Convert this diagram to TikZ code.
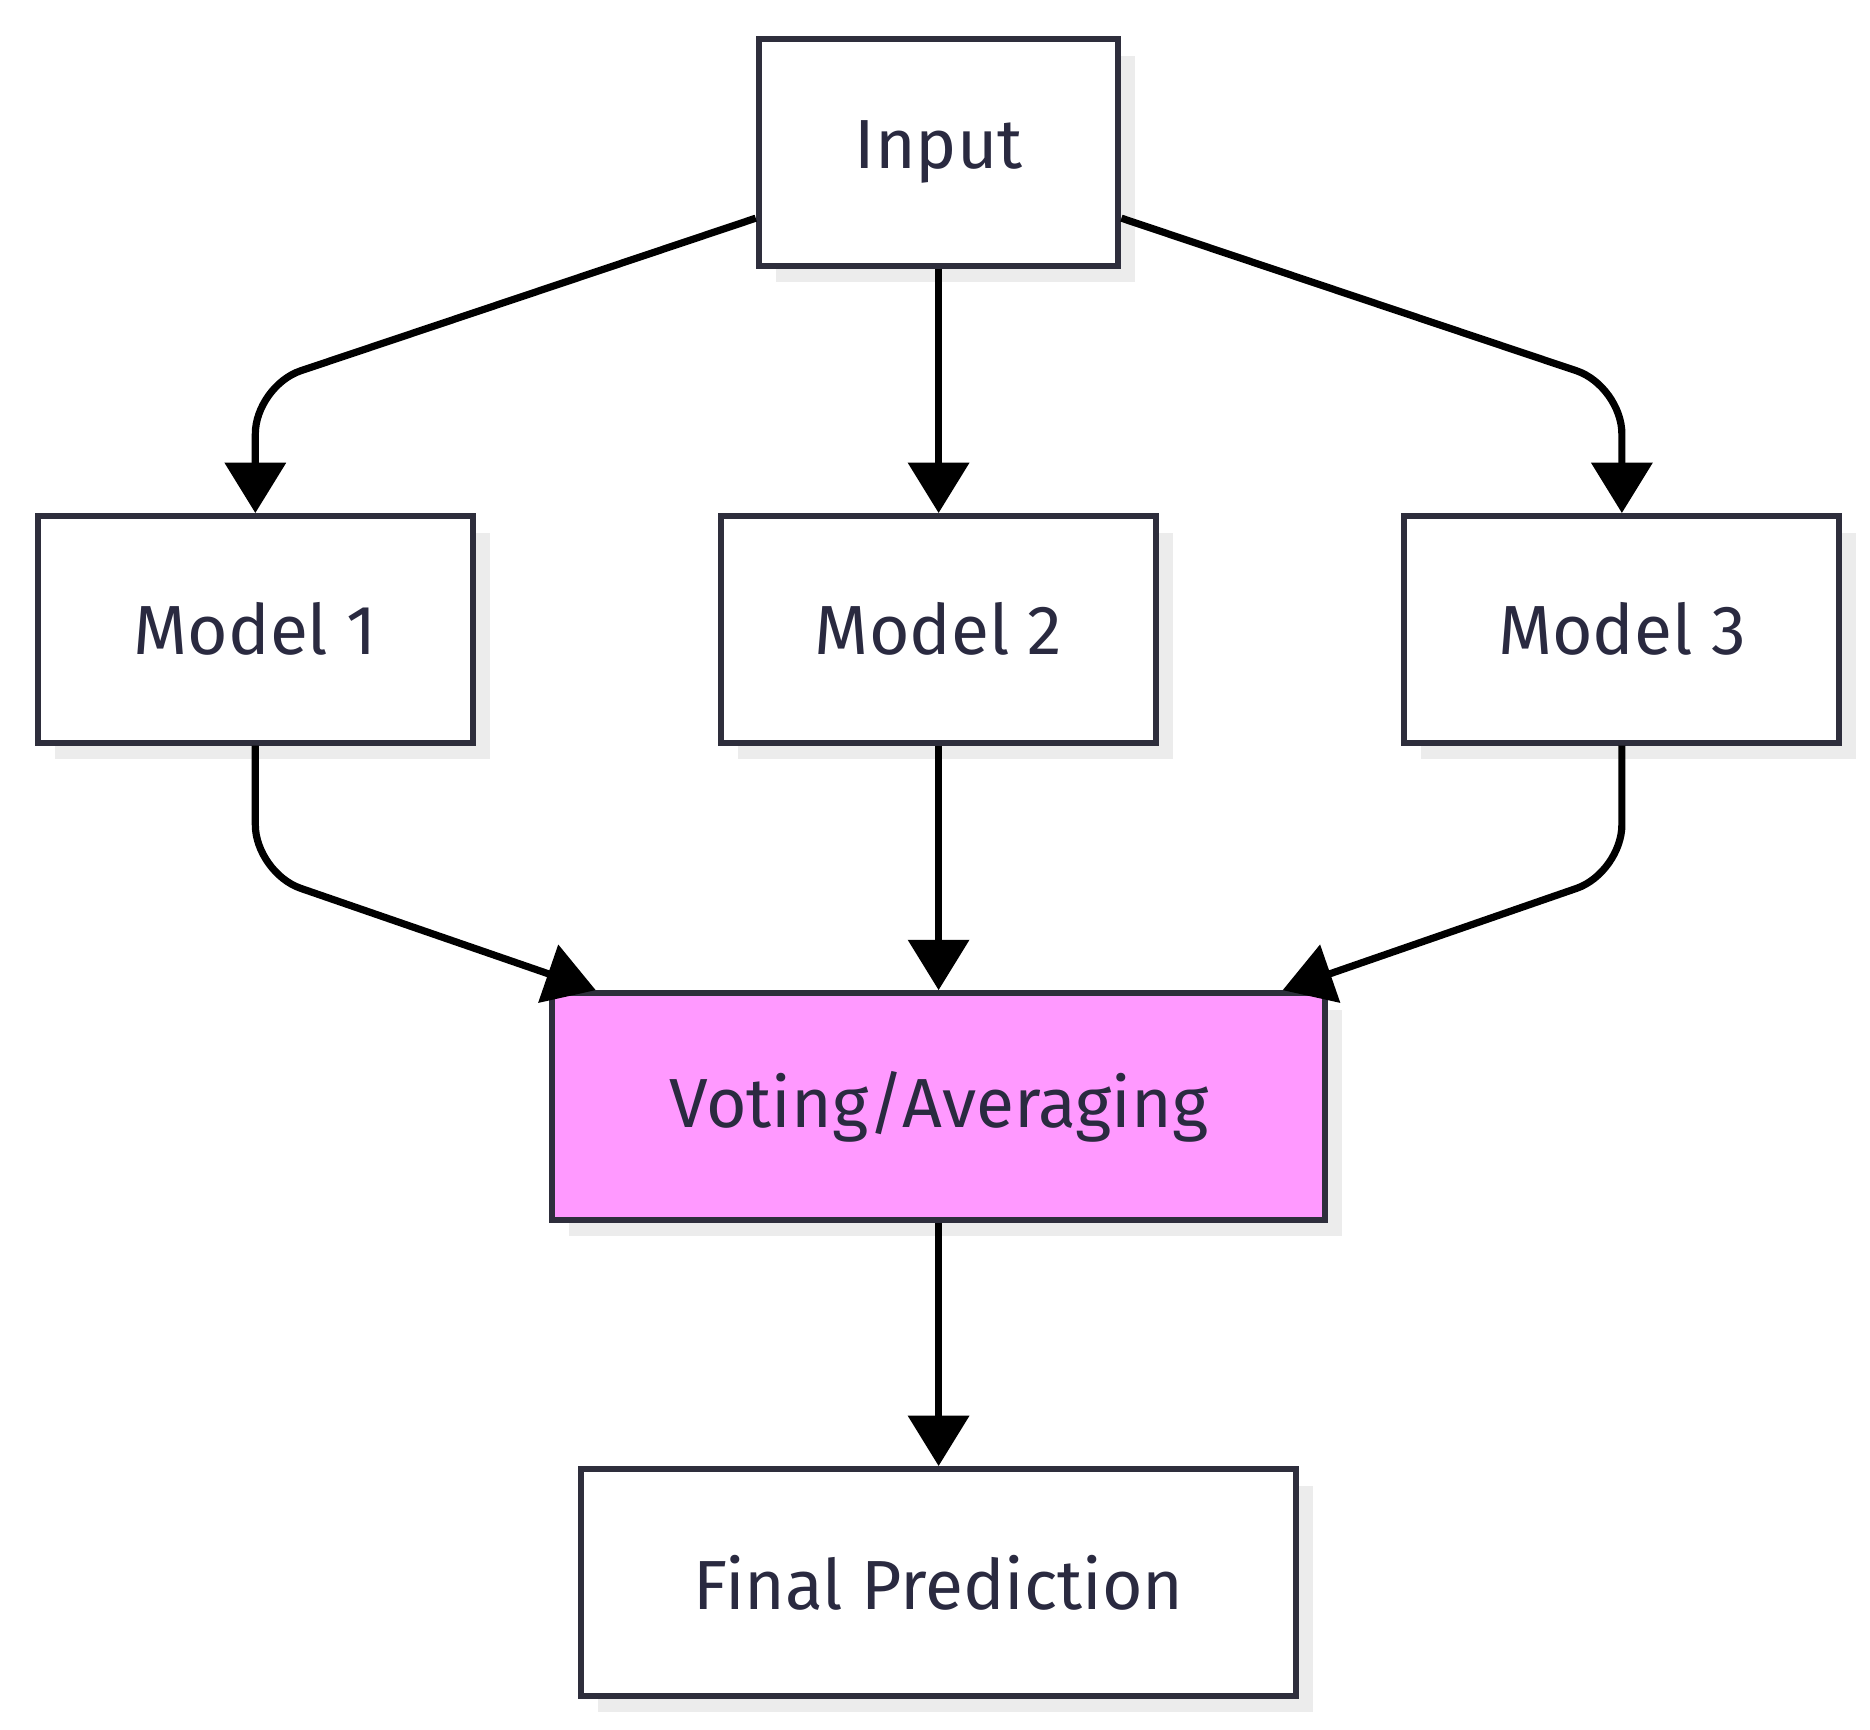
\documentclass[tikz,border=0pt]{standalone}
\usepackage{fontspec}
\setmainfont{Fira Sans}
\usetikzlibrary{arrows.meta,shadows}
\definecolor{txt}{HTML}{2A2A40}
\definecolor{brd}{HTML}{2E2E3C}
\definecolor{vote}{HTML}{FF99FF}
\begin{document}
\begin{tikzpicture}[x=1pt,y=-1pt,
  box/.style={draw=brd,line width=5pt,fill=white,minimum height=189pt,text=txt,
    font=\fontsize{58}{60}\selectfont,
    drop shadow={shadow xshift=14pt,shadow yshift=-14pt,fill=black!12,opacity=0.6}},
  arr/.style={line width=6pt,rounded corners=40pt,-{Triangle[length=42pt,width=50pt]}}]
\useasboundingbox (0,0) rectangle (1560,1443);
\node[box,minimum width=300pt] (in) at (783,127) {Input};
\node[box,minimum width=363pt] (m1) at (213,525) {Model 1};
\node[box,minimum width=363pt] (m2) at (783,525) {Model 2};
\node[box,minimum width=363pt] (m3) at (1353,525) {Model 3};
\node[box,minimum width=645pt,fill=vote] (v) at (783,923) {Voting/Averaging};
\node[box,minimum width=597pt] (f) at (783,1320) {Final Prediction};
\coordinate (c1) at (213,322);
\coordinate (c3) at (1353,322);
\coordinate (d1) at (213,728);
\coordinate (d3) at (1353,728);
\draw[arr] (in.west |- 0,182) -- (c1) -- (m1.north);
\draw[arr] (in.east |- 0,182) -- (c3) -- (m3.north);
\draw[arr] (in) -- (m2);
\draw[arr] (m1.south) -- (d1) -- (v.north west -| 497,0);
\draw[arr] (m3.south) -- (d3) -- (v.north east -| 1070,0);
\draw[arr] (m2) -- (v);
\draw[arr] (v) -- (f);
\end{tikzpicture}
\end{document}
